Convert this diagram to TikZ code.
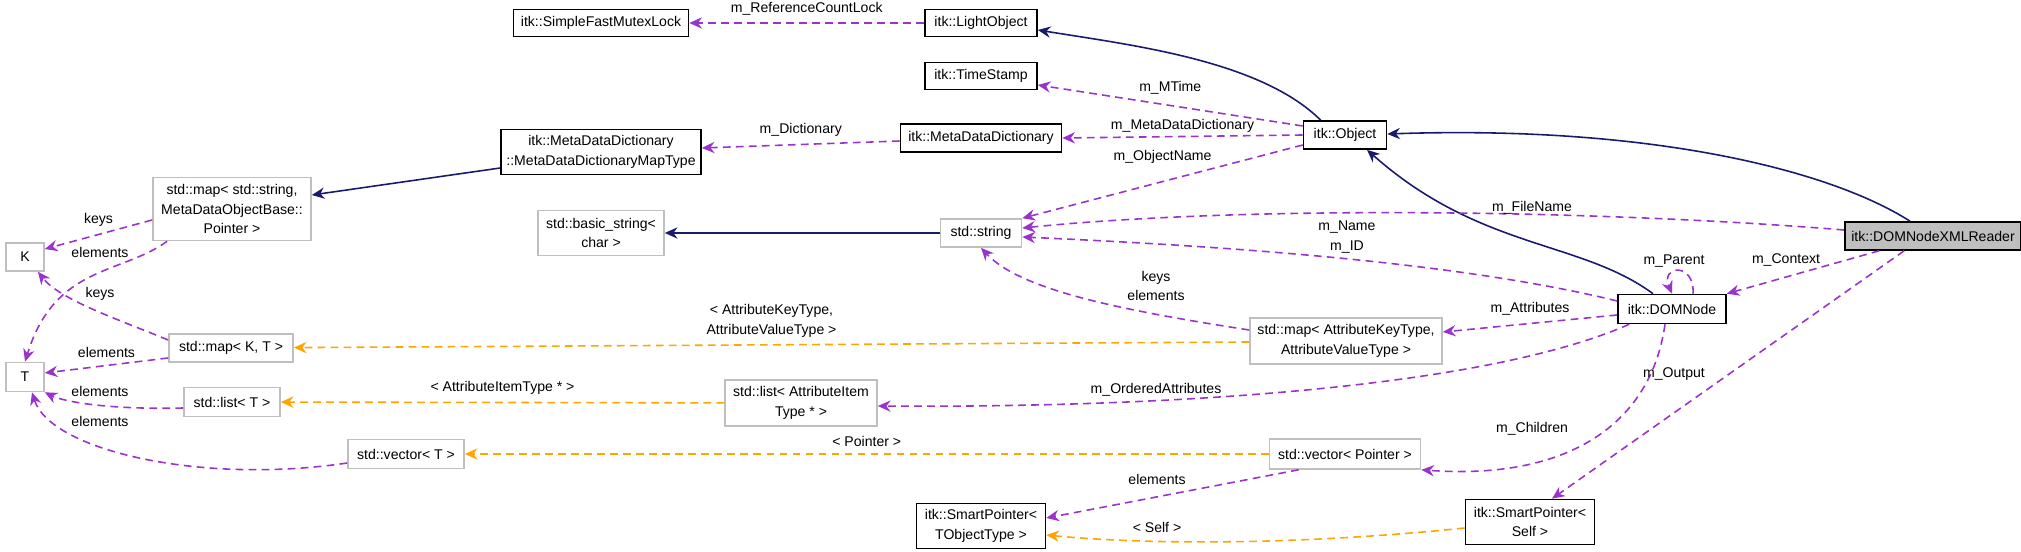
\documentclass[tikz,border=0pt]{standalone}
\usepackage{fontspec}
\setmainfont{Liberation Sans}
\usetikzlibrary{arrows.meta,positioning,calc}

\definecolor{edgepurple}{HTML}{9A32CD}
\definecolor{edgenavy}{HTML}{191970}
\definecolor{edgeorange}{HTML}{FFA500}
\definecolor{boxgrey}{HTML}{BFBFBF}

\tikzset{
  cls/.style={draw=black, line width=0.45pt, inner sep=0pt, align=center,
    font=\fontsize{4}{5.6}\selectfont},
  ext/.style={cls, draw=boxgrey},
  inherit/.style={edgenavy, line width=0.45pt, -{Stealth[length=3.6pt,width=3.2pt]}},
  member/.style={edgepurple, line width=0.45pt, dash pattern=on 2.2pt off 1.5pt,
    -{Stealth[length=3.6pt,width=3.2pt]}},
  templ/.style={member, edgeorange},
  lbl/.style={text=black, font=\fontsize{4}{5.6}\selectfont, align=center, inner sep=0pt}
}

\begin{document}
\begin{tikzpicture}[x=0.01cm, y=-0.01cm]
  \useasboundingbox (0,0) rectangle (2021,552);

  % classes
  \node[cls, minimum width=1.75cm, minimum height=0.27cm] (mutex) at (601,23) {itk::SimpleFastMutexLock};
  \node[cls, minimum width=1.12cm, minimum height=0.27cm] (light) at (981,23) {itk::LightObject};
  \node[cls, minimum width=1.12cm, minimum height=0.27cm] (stamp) at (981,76) {itk::TimeStamp};
  \node[cls, minimum width=1.61cm, minimum height=0.28cm] (mdd) at (981,138) {itk::MetaDataDictionary};
  \node[cls, minimum width=2.00cm, minimum height=0.45cm] (mddmap) at (601,152) {itk::MetaDataDictionary\\::MetaDataDictionaryMapType};
  \node[cls, minimum width=0.83cm, minimum height=0.28cm] (object) at (1345,135) {itk::Object};
  \node[cls, fill=boxgrey, minimum width=1.76cm, minimum height=0.28cm] (reader) at (1933,236) {itk::DOMNodeXMLReader};
  \node[cls, minimum width=1.08cm, minimum height=0.29cm] (domnode) at (1672,309) {itk::DOMNode};
  \node[cls, minimum width=1.29cm, minimum height=0.45cm] (spobj) at (981,526) {itk::SmartPointer\textless\\TObjectType \textgreater};
  \node[cls, minimum width=1.29cm, minimum height=0.45cm] (spself) at (1530,522) {itk::SmartPointer\textless\\Self \textgreater};

  % external types
  \node[ext, minimum width=1.58cm, minimum height=0.63cm] (mapstr) at (232,209) {std::map\textless{} std::string,\\MetaDataObjectBase::\\Pointer \textgreater};
  \node[ext, minimum width=1.26cm, minimum height=0.45cm] (basic) at (601,233) {std::basic\_string\textless\\char \textgreater};
  \node[ext, minimum width=0.81cm, minimum height=0.28cm] (string) at (981,233) {std::string};
  \node[ext, minimum width=0.38cm, minimum height=0.28cm] (K) at (25,257) {K};
  \node[ext, minimum width=0.38cm, minimum height=0.29cm] (T) at (25,377) {T};
  \node[ext, minimum width=1.24cm, minimum height=0.28cm] (mapKT) at (231,348) {std::map\textless{} K, T \textgreater};
  \node[ext, minimum width=0.96cm, minimum height=0.29cm] (listT) at (232,402) {std::list\textless{} T \textgreater};
  \node[ext, minimum width=1.16cm, minimum height=0.29cm] (vecT) at (406,454) {std::vector\textless{} T \textgreater};
  \node[ext, minimum width=1.92cm, minimum height=0.46cm] (mapattr) at (1346,341) {std::map\textless{} AttributeKeyType,\\AttributeValueType \textgreater};
  \node[ext, minimum width=1.52cm, minimum height=0.46cm] (listattr) at (801,403) {std::list\textless{} AttributeItem\\Type * \textgreater};
  \node[ext, minimum width=1.51cm, minimum height=0.30cm] (vecptr) at (1345,454) {std::vector\textless{} Pointer \textgreater};

  % inheritance
  \draw[inherit] ($(object.north west)+(18,0)$) .. controls (1260,60) and (1130,45) .. (light.east |- 0,30);
  \draw[inherit] ($(reader.north)+(-23,0)$) .. controls (1830,170) and (1650,125) .. (object.east |- 0,134);
  \draw[inherit] ($(domnode.north)+(-19,0)$) .. controls (1580,240) and (1480,250) .. ($(object.south)+(22,0)$);
  \draw[inherit] (mddmap.west |- 0,168) -- (mapstr.east |- 0,195);
  \draw[inherit] (string) -- (basic);

  % members
  \draw[member] (light) -- node[lbl, above=2pt] {m\_ReferenceCountLock} (mutex);
  \draw[member] (object.west |- 0,126) -- node[lbl, above=3pt] {m\_MTime} (stamp.east |- 0,85);
  \draw[member] (object.west |- 0,135) -- node[lbl, above=1pt] {m\_MetaDataDictionary} (mdd.east |- 0,138);
  \draw[member] (mdd.west |- 0,141) -- node[lbl, above=2pt] {m\_Dictionary} (mddmap.east |- 0,148);
  \draw[member] (object.west |- 0,145) -- node[lbl, above=5pt] {m\_ObjectName} (string.north east);
  \draw[member] (reader.west |- 0,230) .. controls (1600,210) and (1250,205) .. (string.east |- 0,228);
  \node[lbl] (lfile) at (1532,208) {m\_FileName};
  \draw[member] (domnode.west |- 0,301) .. controls (1450,260) and (1200,245) .. (string.east |- 0,237);
  \node[lbl] (lname) at (1347,237) {m\_Name\\m\_ID};
  \draw[member] ($(domnode.north)+(21,0)$) .. controls (1695,262) and (1660,265) .. (domnode.north);
  \node[lbl] (lparent) at (1674,261) {m\_Parent};
  \draw[member] ($(reader.south west)+(35,0)$) -- (domnode.north east);
  \node[lbl] (lcontext) at (1786,260) {m\_Context};
  \draw[member] (domnode.west |- 0,315) -- node[lbl, above=2pt] {m\_Attributes} (mapattr.east |- 0,332);
  \draw[member] (mapattr.west |- 0,330) .. controls (1120,310) and (1020,290) .. (string.south);
  \node[lbl] (lkeys) at (1156,286) {keys\\elements};
  \draw[member] ($(domnode.south west)+(12,0)$) .. controls (1480,390) and (1150,408) .. (listattr.east |- 0,406);
  \node[lbl] (lordered) at (1156,390) {m\_OrderedAttributes};
  \draw[member] ($(domnode.south)+(-7,0)$) .. controls (1650,430) and (1560,480) .. (vecptr.south east);
  \node[lbl] (lchildren) at (1532,429) {m\_Children};
  \draw[member] ($(reader.south west)+(60,0)$) -- ($(spself.north)+(22,0)$);
  \node[lbl] (loutput) at (1674,374) {m\_Output};
  \draw[member] ($(vecptr.south west)+(30,0)$) -- (spobj.east |- 0,518);
  \node[lbl] (lelements) at (1157,479) {elements};

  % template arguments
  \draw[templ] (mapattr.west |- 0,342) -- node[lbl, above=2pt] {\textless{} AttributeKeyType,\\AttributeValueType \textgreater} (mapKT);
  \draw[templ] (listattr) -- node[lbl, above=2pt] {\textless{} AttributeItemType * \textgreater} (listT);
  \draw[templ] (vecptr) -- node[lbl, above=2pt] {\textless{} Pointer \textgreater} (vecT);
  \draw[templ] (spself.west |- 0,528) .. controls (1300,545) and (1150,545) .. (spobj.east |- 0,535);
  \node[lbl] (lself) at (1157,527) {\textless{} Self \textgreater};

  % std containers
  \draw[member] (mapstr.west |- 0,220) -- node[lbl, above=2pt] {keys} (K.east |- 0,249);
  \draw[member] ($(mapstr.south west)+(15,0)$) .. controls (120,275) and (55,265) .. (T.north);
  \node[lbl] (lel1) at (100,252) {elements};
  \draw[member] (mapKT.west |- 0,340) .. controls (120,320) and (60,300) .. ($(K.south)+(13,0)$);
  \node[lbl] (lkeys2) at (100,294) {keys};
  \draw[member] (mapKT.west |- 0,358) -- node[lbl, above=2pt] {elements} (T.east |- 0,373);
  \draw[member] (listT.west |- 0,408) .. controls (100,410) and (60,400) .. (T.south east);
  \node[lbl] (lel3) at (100,391) {elements};
  \draw[member] (vecT.west |- 0,463) .. controls (200,485) and (50,450) .. ($(T.south)+(7,0)$);
  \node[lbl] (lel4) at (100,421) {elements};
\end{tikzpicture}
\end{document}
